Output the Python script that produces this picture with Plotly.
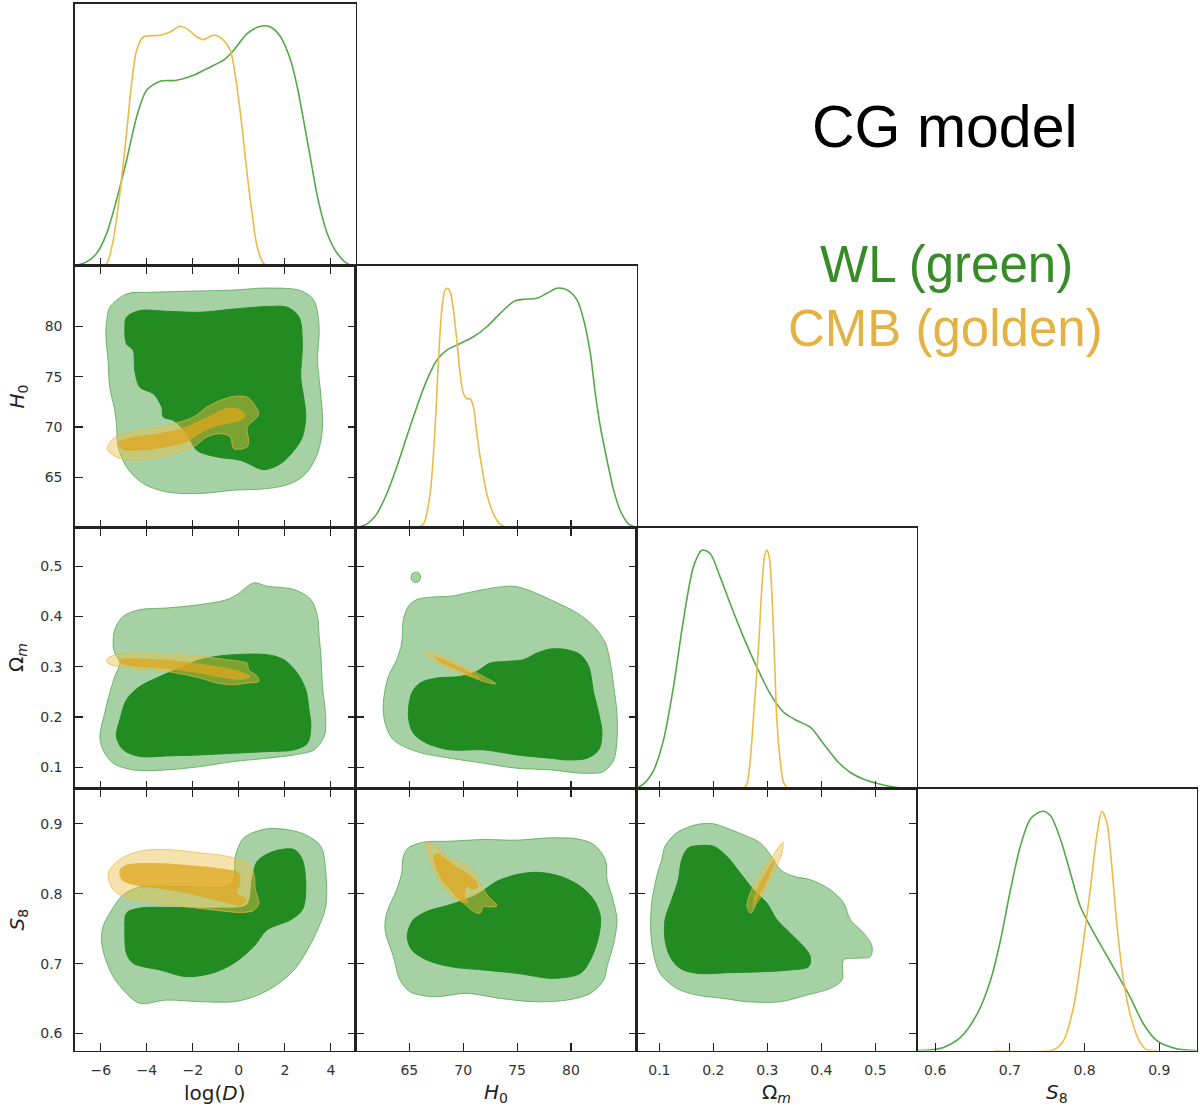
import plotly.graph_objects as go

W, H = 1200, 1111

# panel edges in pixels (left/right per column, top/bottom per row)
COL_PX = [(74.5, 355.5), (355.5, 636.5), (636.5, 917.0), (917.0, 1197.0)]
ROW_PX = [(3.5, 265.5), (265.5, 527.5), (527.5, 788.5), (788.5, 1050.5)]

PARAMS = ["logD", "H0", "Om", "S8"]
LABELS = {
    "logD": "log(<i>D</i>)",
    "H0": "<i>H</i><sub>0</sub>",
    "Om": "Ω<sub><i>m</i></sub>",
    "S8": "<i>S</i><sub>8</sub>",
}
RANGES = {
    "logD": [-7.14, 5.07],
    "H0": [60.0, 86.08],
    "Om": [0.0577, 0.577],
    "S8": [0.5757, 0.9505],
}
TICKS = {
    "logD": [-6, -4, -2, 0, 2, 4],
    "H0": [65, 70, 75, 80],
    "Om": [0.1, 0.2, 0.3, 0.4, 0.5],
    "S8": [0.6, 0.7, 0.8, 0.9],
}
DENS_RANGE = [0, 1.095]

# ---- 1D marginals: (value, normalised density) ----
WL_LOGD_1D = [(-7.14, 0), (-6.63, 0.014), (-6.19, 0.049), (-5.75, 0.132), (-5.32, 0.272),
              (-4.88, 0.439), (-4.44, 0.621), (-4.01, 0.732), (-3.42, 0.770), (-2.70, 0.774),
              (-1.97, 0.795), (-1.24, 0.830), (-0.66, 0.858), (-0.22, 0.900), (0.36, 0.969),
              (0.94, 1.0), (1.38, 0.997), (1.82, 0.955), (2.25, 0.858), (2.54, 0.746),
              (2.84, 0.593), (3.13, 0.439), (3.42, 0.286), (3.85, 0.132), (4.29, 0.049),
              (4.73, 0.007), (5.07, 0)]
CMB_LOGD_1D = [(-7.1, 0), (-6.04, 0), (-5.75, 0.007), (-5.46, 0.105), (-5.17, 0.300),
               (-4.88, 0.551), (-4.66, 0.760), (-4.44, 0.900), (-4.15, 0.955), (-3.42, 0.962),
               (-2.99, 0.976), (-2.55, 1.0), (-2.26, 0.990), (-1.82, 0.955), (-1.53, 0.944),
               (-1.24, 0.958), (-1.02, 0.962), (-0.66, 0.941), (-0.37, 0.900), (-0.08, 0.746),
               (0.14, 0.579), (0.36, 0.384), (0.58, 0.216), (0.80, 0.077), (1.09, 0.007),
               (1.38, 0), (2.47, 0)]
WL_H0_1D = [(60.10, 0), (61.03, 0.014), (61.96, 0.056), (62.89, 0.140), (63.82, 0.252),
            (64.75, 0.378), (65.68, 0.503), (66.61, 0.615), (67.54, 0.699), (68.47, 0.741),
            (69.71, 0.769), (70.95, 0.797), (72.19, 0.839), (73.43, 0.895), (74.67, 0.944),
            (75.60, 0.954), (76.84, 0.958), (77.77, 0.979), (78.70, 1.0), (79.63, 0.993),
            (80.56, 0.951), (81.18, 0.867), (81.80, 0.727), (82.26, 0.559), (82.73, 0.420),
            (83.35, 0.280), (83.97, 0.154), (84.58, 0.070), (85.36, 0.014), (86.07, 0)]
CMB_H0_1D = [(63.05, 0), (65.68, 0), (66.30, 0.014), (66.92, 0.140), (67.39, 0.420),
             (67.70, 0.699), (68.01, 0.909), (68.32, 0.993), (68.53, 1.0), (68.78, 0.986),
             (69.09, 0.909), (69.40, 0.783), (69.71, 0.643), (70.02, 0.559), (70.33, 0.538),
             (70.64, 0.538), (70.95, 0.503), (71.26, 0.392), (71.72, 0.252), (72.19, 0.140),
             (72.81, 0.056), (73.43, 0.014), (74.05, 0), (80.87, 0)]
WL_OM_1D = [(0.0567, 0), (0.0703, 0.018), (0.0889, 0.074), (0.1074, 0.201), (0.1260, 0.425),
            (0.1445, 0.705), (0.1631, 0.930), (0.1785, 1.0), (0.1940, 0.986), (0.2125, 0.888),
            (0.2311, 0.776), (0.2558, 0.635), (0.2805, 0.509), (0.3053, 0.397), (0.3300, 0.320),
            (0.3547, 0.285), (0.3794, 0.257), (0.4042, 0.187), (0.4289, 0.116), (0.4536, 0.067),
            (0.4784, 0.039), (0.5093, 0.018), (0.5402, 0.004), (0.5773, 0)]
CMB_OM_1D = [(0.2558, 0), (0.2620, 0.018), (0.2682, 0.116), (0.2756, 0.341), (0.2836, 0.593),
             (0.2898, 0.846), (0.2947, 0.972), (0.2991, 1.0), (0.3034, 0.972), (0.3083, 0.818),
             (0.3133, 0.537), (0.3176, 0.285), (0.3238, 0.116), (0.3300, 0.025), (0.3374, 0)]
WL_S8_1D = [(0.5764, 0), (0.5942, 0.003), (0.6120, 0.014), (0.6342, 0.056), (0.6564, 0.154),
            (0.6742, 0.295), (0.6876, 0.463), (0.7009, 0.673), (0.7142, 0.856), (0.7276, 0.968),
            (0.7431, 1.0), (0.7542, 0.982), (0.7676, 0.884), (0.7809, 0.743), (0.7942, 0.603),
            (0.8076, 0.519), (0.8253, 0.421), (0.8431, 0.323), (0.8609, 0.224), (0.8787, 0.112),
            (0.8964, 0.042), (0.9231, 0.007), (0.9498, 0)]
CMB_S8_1D = [(0.68, 0), (0.7587, 0.003), (0.7720, 0.042), (0.7853, 0.182), (0.7964, 0.407),
             (0.8076, 0.673), (0.8164, 0.898), (0.8231, 1.0), (0.8298, 0.954), (0.8364, 0.771),
             (0.8431, 0.533), (0.8520, 0.295), (0.8631, 0.126), (0.8742, 0.035), (0.8831, 0.003),
             (0.8964, 0)]

# ---- 2D contours: (x, y) outlines of 95% and 68% regions ----
WL95_LOGD_H0 = [(-5.61, 81.92), (-4.88, 83.25), (-3.86, 83.41), (-2.40, 83.51), (-0.22, 83.64),
                (1.23, 83.84), (2.69, 83.58), (3.27, 82.58), (3.49, 79.93), (3.42, 76.62),
                (3.56, 73.31), (3.64, 70.0), (3.42, 67.35), (2.91, 65.36), (2.25, 64.37),
                (1.23, 63.87), (-0.22, 63.71), (-1.68, 63.38), (-3.13, 63.54), (-4.15, 64.37),
                (-4.88, 66.03), (-5.24, 68.01), (-5.32, 70.33), (-5.39, 71.66), (-5.61, 73.97),
                (-5.68, 76.62), (-5.78, 79.27), (-5.72, 80.93)]
WL68_LOGD_H0 = [(-4.88, 80.93), (-4.30, 81.59), (-3.13, 81.52), (-1.68, 81.42), (-0.22, 81.75),
                (1.23, 81.99), (2.11, 81.92), (2.62, 80.93), (2.76, 78.28), (2.69, 74.97),
                (2.84, 72.65), (2.91, 70.99), (2.76, 69.01), (2.40, 67.68), (1.82, 66.36),
                (1.09, 65.76), (0.07, 66.69), (-0.95, 67.02), (-1.82, 67.68), (-2.26, 69.34),
                (-2.84, 70.66), (-3.28, 70.99), (-3.35, 71.99), (-3.71, 73.31), (-4.30, 73.97),
                (-4.52, 75.63), (-4.59, 77.62), (-4.88, 78.28), (-4.95, 79.93)]
CMB95_LOGD_H0 = [(-5.72, 67.85), (-5.46, 68.84), (-4.88, 69.40), (-3.86, 69.83), (-2.84, 70.33),
                 (-1.97, 70.99), (-1.39, 71.99), (-0.80, 72.65), (-0.22, 73.05), (0.36, 72.98),
                 (0.65, 72.32), (0.87, 71.32), (0.65, 70.66), (0.36, 70.0), (0.43, 68.68),
                 (0.36, 68.01), (-0.22, 67.85), (-0.37, 69.01), (-0.80, 69.34), (-1.39, 69.01),
                 (-1.97, 68.01), (-2.84, 67.35), (-3.86, 66.85), (-4.59, 66.69), (-5.32, 67.02)]
CMB68_LOGD_H0 = [(-5.24, 68.51), (-4.59, 69.01), (-3.57, 69.34), (-2.55, 69.83), (-1.82, 70.50),
                 (-1.09, 71.32), (-0.51, 71.92), (0.07, 71.72), (0.29, 71.16), (0.07, 70.66),
                 (-0.51, 70.33), (-1.09, 70.0), (-1.68, 69.34), (-2.26, 68.51), (-3.13, 68.01),
                 (-4.15, 67.68), (-5.02, 67.75)]

WL95_LOGD_OM = [(-5.46, 0.3405), (-5.39, 0.3738), (-5.02, 0.4003), (-4.30, 0.4136), (-3.13, 0.4169),
                (-1.68, 0.4236), (-0.51, 0.4336), (-0.08, 0.4435), (0.65, 0.4668), (1.23, 0.4601),
                (2.40, 0.4535), (3.13, 0.4336), (3.42, 0.4003), (3.49, 0.3605), (3.56, 0.3272),
                (3.64, 0.2608), (3.78, 0.1944), (3.71, 0.1611), (3.27, 0.1346), (2.40, 0.1246),
                (1.23, 0.1179), (-0.22, 0.1113), (-1.68, 0.1013), (-3.13, 0.0947), (-4.59, 0.0947),
                (-5.46, 0.1080), (-5.90, 0.1346), (-6.04, 0.1611), (-5.83, 0.2076), (-5.61, 0.2475),
                (-5.39, 0.2807), (-5.17, 0.3073), (-5.39, 0.3272)]
WL68_LOGD_OM = [(-5.17, 0.1944), (-4.88, 0.2342), (-4.30, 0.2608), (-3.42, 0.2807), (-2.40, 0.3007),
                (-1.68, 0.3140), (-0.95, 0.3206), (-0.22, 0.3239), (1.23, 0.3239), (1.96, 0.3140),
                (2.54, 0.2874), (2.91, 0.2542), (3.05, 0.2143), (3.13, 0.1811), (2.98, 0.1478),
                (2.40, 0.1346), (1.23, 0.1312), (-0.22, 0.1279), (-1.68, 0.1246), (-3.13, 0.1226),
                (-4.30, 0.1213), (-5.02, 0.1346), (-5.32, 0.1611)]
CMB95_LOGD_OM = [(-5.75, 0.3140), (-5.39, 0.3239), (-4.59, 0.3272), (-3.13, 0.3259), (-1.68, 0.3206),
                 (-0.51, 0.3140), (0.07, 0.3106), (0.36, 0.3073), (0.43, 0.2940), (0.80, 0.2807),
                 (0.87, 0.2708), (0.36, 0.2674), (-0.22, 0.2641), (-0.95, 0.2674), (-1.68, 0.2774),
                 (-3.13, 0.2907), (-4.59, 0.2973), (-5.32, 0.3007), (-5.68, 0.3073)]
CMB68_LOGD_OM = [(-5.17, 0.3140), (-3.86, 0.3153), (-2.40, 0.3106), (-0.95, 0.3007), (0.07, 0.2907),
                 (0.51, 0.2807), (0.22, 0.2741), (-0.37, 0.2754), (-1.68, 0.2860), (-3.13, 0.2953),
                 (-4.59, 0.3007), (-5.10, 0.3060)]

WL95_LOGD_S8 = [(-5.90, 0.7531), (-5.61, 0.7722), (-5.02, 0.7986), (-4.30, 0.8096), (-3.13, 0.8105),
                (-1.68, 0.8096), (-0.51, 0.8105), (-0.22, 0.8201), (-0.15, 0.8536), (0.22, 0.8799),
                (1.23, 0.8928), (2.69, 0.8871), (3.56, 0.8679), (3.78, 0.8297), (3.78, 0.7818),
                (3.42, 0.7483), (2.98, 0.7196), (2.40, 0.6909), (1.53, 0.6670), (0.65, 0.6526),
                (-0.22, 0.6455), (-1.68, 0.6455), (-3.13, 0.6478), (-4.30, 0.6431), (-4.88, 0.6574),
                (-5.46, 0.6813), (-5.83, 0.7100), (-5.97, 0.7340)]
WL68_LOGD_S8 = [(-4.88, 0.7722), (-4.30, 0.7794), (-3.13, 0.7804), (-0.95, 0.7794), (0.36, 0.7842),
                (0.58, 0.8201), (0.80, 0.8464), (1.53, 0.8608), (2.40, 0.8632), (2.76, 0.8488),
                (2.91, 0.8057), (2.76, 0.7770), (2.25, 0.7627), (1.23, 0.7483), (0.65, 0.7244),
                (-0.22, 0.7005), (-1.09, 0.6871), (-2.26, 0.6813), (-3.42, 0.6909), (-4.59, 0.7005),
                (-4.88, 0.7148), (-4.95, 0.7483)]
CMB95_LOGD_S8 = [(-5.68, 0.8297), (-5.17, 0.8488), (-4.30, 0.8608), (-3.13, 0.8632), (-1.68, 0.8584),
                 (-0.51, 0.8536), (0.36, 0.8440), (0.65, 0.8297), (0.72, 0.8057), (0.87, 0.7866),
                 (0.65, 0.7761), (0.07, 0.7732), (-0.95, 0.7761), (-2.40, 0.7818), (-3.86, 0.7876),
                 (-5.02, 0.7962), (-5.46, 0.8057)]
CMB68_LOGD_S8 = [(-5.17, 0.8344), (-4.88, 0.8416), (-3.86, 0.8440), (-2.40, 0.8416), (-0.95, 0.8368),
                 (0.0, 0.8297), (0.07, 0.8153), (-0.08, 0.8010), (0.36, 0.7914), (0.07, 0.7828),
                 (-0.51, 0.7866), (-1.68, 0.7962), (-3.13, 0.8057), (-4.30, 0.8105), (-5.02, 0.8177),
                 (-5.17, 0.8249)]

WL95_H0_OM = [(64.44, 0.3937), (64.91, 0.4203), (65.68, 0.4336), (67.23, 0.4389), (68.78, 0.4402),
              (70.33, 0.4468), (71.88, 0.4535), (73.43, 0.4588), (74.67, 0.4601), (75.91, 0.4535),
              (78.08, 0.4336), (80.56, 0.4070), (82.11, 0.3804), (83.19, 0.3472), (83.66, 0.3073),
              (83.97, 0.2608), (84.27, 0.2076), (84.27, 0.1545), (83.97, 0.1146), (83.04, 0.0914),
              (81.18, 0.0880), (78.08, 0.0947), (74.98, 0.0980), (71.88, 0.1080), (68.78, 0.1179),
              (65.68, 0.1312), (63.51, 0.1545), (62.74, 0.1877), (62.58, 0.2276), (63.05, 0.2807),
              (63.82, 0.3140), (64.29, 0.3472)]
WL95_H0_OM_ISLAND = [(66.05, 0.478), (65.92, 0.4854), (65.6, 0.4885), (65.28, 0.4854),
                     (65.15, 0.478), (65.28, 0.4706), (65.6, 0.4675), (65.92, 0.4706)]
WL68_H0_OM = [(64.91, 0.2010), (65.22, 0.2475), (65.99, 0.2674), (67.54, 0.2774), (69.71, 0.2807),
              (71.26, 0.2907), (72.50, 0.3073), (74.05, 0.3106), (75.60, 0.3140), (76.84, 0.3272),
              (78.08, 0.3352), (79.63, 0.3339), (80.87, 0.3239), (81.64, 0.3007), (82.11, 0.2475),
              (82.57, 0.2076), (82.88, 0.1678), (82.57, 0.1346), (81.49, 0.1179), (79.63, 0.1146),
              (78.08, 0.1179), (74.98, 0.1246), (71.88, 0.1346), (68.78, 0.1346), (66.61, 0.1478),
              (65.37, 0.1678)]
CMB95_H0_OM = [(66.55, 0.3306), (67.23, 0.3272), (68.78, 0.3140), (70.33, 0.2973), (71.88, 0.2807),
               (73.03, 0.2661), (72.19, 0.2688), (70.64, 0.2807), (68.78, 0.2953), (67.39, 0.3106),
               (66.67, 0.3219)]
CMB68_H0_OM = [(67.23, 0.3206), (68.78, 0.3086), (70.33, 0.2927), (71.72, 0.2767), (70.95, 0.2794),
               (69.40, 0.2940), (67.85, 0.3093)]

WL95_H0_S8 = [(64.44, 0.8536), (64.91, 0.8656), (66.30, 0.8737), (68.78, 0.8751), (71.88, 0.8775),
              (74.98, 0.8766), (78.08, 0.8799), (80.56, 0.8785), (82.11, 0.8703), (83.19, 0.8488),
              (83.35, 0.8201), (83.81, 0.7962), (84.27, 0.7627), (83.97, 0.7292), (83.35, 0.6957),
              (83.04, 0.6766), (81.80, 0.6574), (79.63, 0.6478), (76.53, 0.6455), (73.43, 0.6502),
              (70.33, 0.6574), (67.23, 0.6526), (65.06, 0.6598), (64.13, 0.6766), (63.51, 0.7100),
              (62.74, 0.7483), (62.89, 0.7722), (63.82, 0.8057), (64.29, 0.8297)]
WL68_H0_S8 = [(64.91, 0.7483), (65.37, 0.7627), (66.61, 0.7746), (68.78, 0.7842), (71.26, 0.7986),
              (73.12, 0.8177), (74.98, 0.8273), (76.84, 0.8306), (79.01, 0.8249), (80.87, 0.8105),
              (82.11, 0.7914), (82.73, 0.7675), (82.57, 0.7388), (81.80, 0.7053), (80.87, 0.6861),
              (78.39, 0.6789), (74.98, 0.6861), (71.88, 0.6909), (68.78, 0.6957), (66.61, 0.7053),
              (65.22, 0.7196), (64.81, 0.7364)]
CMB95_H0_S8 = [(66.46, 0.8718), (66.92, 0.8727), (67.85, 0.8632), (68.78, 0.8512), (69.71, 0.8440),
               (70.49, 0.8392), (71.10, 0.8297), (71.72, 0.8105), (72.34, 0.7962), (73.12, 0.7828),
               (72.50, 0.7809), (71.88, 0.7818), (71.57, 0.7722), (70.95, 0.7746), (70.02, 0.7866),
               (68.78, 0.7986), (67.85, 0.8153), (67.23, 0.8344), (66.77, 0.8536)]
CMB68_H0_S8 = [(67.23, 0.8536), (67.70, 0.8574), (68.47, 0.8488), (69.40, 0.8383), (70.33, 0.8297),
               (71.10, 0.8201), (71.41, 0.8105), (70.79, 0.8057), (70.33, 0.8105), (70.18, 0.7962),
               (70.49, 0.7866), (69.71, 0.7904), (68.78, 0.8057), (68.01, 0.8201), (67.48, 0.8368)]

WL95_OM_S8 = [(0.1105, 0.8679), (0.1321, 0.8871), (0.1692, 0.8990), (0.2002, 0.9000), (0.2311, 0.8919),
              (0.2620, 0.8823), (0.2867, 0.8727), (0.3053, 0.8560), (0.3238, 0.8344), (0.3485, 0.8249),
              (0.3794, 0.8201), (0.4165, 0.8057), (0.4413, 0.7866), (0.4536, 0.7627), (0.4784, 0.7435),
              (0.4938, 0.7244), (0.4907, 0.7100), (0.4660, 0.7077), (0.4413, 0.7053), (0.4382, 0.6766),
              (0.4165, 0.6646), (0.3733, 0.6550), (0.3238, 0.6455), (0.2620, 0.6455), (0.2187, 0.6502),
              (0.1692, 0.6550), (0.1321, 0.6646), (0.1012, 0.6861), (0.0889, 0.7148), (0.0839, 0.7483),
              (0.0858, 0.7866), (0.0951, 0.8249), (0.1043, 0.8488)]
WL68_OM_S8 = [(0.1414, 0.8488), (0.1538, 0.8656), (0.1754, 0.8689), (0.2002, 0.8679), (0.2249, 0.8536),
              (0.2496, 0.8297), (0.2743, 0.8057), (0.2991, 0.7866), (0.3176, 0.7627), (0.3424, 0.7435),
              (0.3671, 0.7244), (0.3794, 0.7100), (0.3764, 0.6957), (0.3424, 0.6909), (0.2929, 0.6885),
              (0.2311, 0.6871), (0.1692, 0.6861), (0.1383, 0.6933), (0.1198, 0.7100), (0.1105, 0.7340),
              (0.1105, 0.7627), (0.1229, 0.7914), (0.1352, 0.8201)]
CMB95_OM_S8 = [(0.3287, 0.8737), (0.3269, 0.8584), (0.3176, 0.8392), (0.3053, 0.8201), (0.2929, 0.8010),
               (0.2805, 0.7866), (0.2694, 0.7722), (0.2620, 0.7818), (0.2682, 0.8010), (0.2805, 0.8201),
               (0.2960, 0.8392), (0.3114, 0.8560)]
CMB68_OM_S8 = [(0.3145, 0.8488), (0.3053, 0.8287), (0.2929, 0.8081), (0.2805, 0.7914), (0.2731, 0.7794),
               (0.2756, 0.7962), (0.2879, 0.8177), (0.3022, 0.8368)]

MARGINALS = {
    "logD": (WL_LOGD_1D, CMB_LOGD_1D),
    "H0": (WL_H0_1D, CMB_H0_1D),
    "Om": (WL_OM_1D, CMB_OM_1D),
    "S8": (WL_S8_1D, CMB_S8_1D),
}
CONTOURS = {
    ("logD", "H0"): ([WL95_LOGD_H0], WL68_LOGD_H0, CMB95_LOGD_H0, CMB68_LOGD_H0),
    ("logD", "Om"): ([WL95_LOGD_OM], WL68_LOGD_OM, CMB95_LOGD_OM, CMB68_LOGD_OM),
    ("logD", "S8"): ([WL95_LOGD_S8], WL68_LOGD_S8, CMB95_LOGD_S8, CMB68_LOGD_S8),
    ("H0", "Om"): ([WL95_H0_OM, WL95_H0_OM_ISLAND], WL68_H0_OM, CMB95_H0_OM, CMB68_H0_OM),
    ("H0", "S8"): ([WL95_H0_S8], WL68_H0_S8, CMB95_H0_S8, CMB68_H0_S8),
    ("Om", "S8"): ([WL95_OM_S8], WL68_OM_S8, CMB95_OM_S8, CMB68_OM_S8),
}

WL_LIGHT = "rgb(166,209,164)"
WL_DARK = "rgb(34,139,34)"
WL_EDGE = "rgba(70,160,70,0.7)"
CMB_LIGHT = "rgba(236,190,70,0.45)"
CMB_DARK = "rgba(222,165,30,0.75)"
CMB_EDGE = "rgba(232,182,70,0.7)"
WL_LINE = "rgb(84,168,74)"
CMB_LINE = "rgb(236,186,70)"
AX_COLOR = "#222222"
TICK_FONT = dict(family="DejaVu Sans", size=14, color="#333333")


def closed(points):
    pts = list(points) + [points[0]]
    return [p[0] for p in pts], [p[1] for p in pts]


def axis_refs(k):
    return ("x" if k == 1 else f"x{k}"), ("y" if k == 1 else f"y{k}")


def layout_keys(k):
    return ("xaxis" if k == 1 else f"xaxis{k}"), ("yaxis" if k == 1 else f"yaxis{k}")


fig = go.Figure()
layout = {}
k = 0
for i in range(4):
    for j in range(i + 1):
        k += 1
        xr, yr = axis_refs(k)
        xk, yk = layout_keys(k)
        xdom = [COL_PX[j][0] / W, COL_PX[j][1] / W]
        ydom = [1 - ROW_PX[i][1] / H, 1 - ROW_PX[i][0] / H]
        px, py = PARAMS[j], PARAMS[i]
        diag = i == j

        if diag:
            wl, cmb = MARGINALS[px]
            for curve, color in ((wl, WL_LINE), (cmb, CMB_LINE)):
                fig.add_trace(go.Scatter(
                    x=[p[0] for p in curve], y=[p[1] for p in curve],
                    mode="lines", line=dict(color=color, width=1.6, shape="spline", smoothing=0.8),
                    xaxis=xr, yaxis=yr, showlegend=False, hoverinfo="skip",
                ))
        else:
            wl95_list, wl68, cmb95, cmb68 = CONTOURS[(px, py)]
            shapes = [(poly, WL_LIGHT, WL_EDGE) for poly in wl95_list]
            shapes += [(wl68, WL_DARK, WL_DARK), (cmb95, CMB_LIGHT, CMB_EDGE), (cmb68, CMB_DARK, "rgba(0,0,0,0)")]
            for poly, fillc, edge in shapes:
                xs, ys = closed(poly)
                fig.add_trace(go.Scatter(
                    x=xs, y=ys, mode="lines", fill="toself", fillcolor=fillc,
                    line=dict(color=edge, width=1, shape="spline", smoothing=0.9),
                    xaxis=xr, yaxis=yr, showlegend=False, hoverinfo="skip",
                ))

        layout[xk] = dict(
            domain=xdom, anchor=yr, range=RANGES[px],
            tickmode="array", tickvals=TICKS[px],
            ticks="inside", ticklen=8, tickwidth=1.2, tickcolor=AX_COLOR,
            showticklabels=(i == 3), tickfont=TICK_FONT, ticklabelstandoff=6,
            showline=True, linecolor=AX_COLOR, linewidth=1.2,
            mirror=True if diag else "ticks",
            showgrid=False, zeroline=False, fixedrange=True,
        )
        if diag:
            layout[yk] = dict(
                domain=ydom, anchor=xr, range=DENS_RANGE, ticks="", showticklabels=False,
                showline=True, linecolor=AX_COLOR, linewidth=1.2, mirror=True,
                showgrid=False, zeroline=False, fixedrange=True,
            )
        else:
            layout[yk] = dict(
                domain=ydom, anchor=xr, range=RANGES[py],
                tickmode="array", tickvals=TICKS[py],
                ticks="inside", ticklen=8, tickwidth=1.2, tickcolor=AX_COLOR,
                showticklabels=(j == 0), tickfont=TICK_FONT, ticklabelstandoff=8,
                showline=True, linecolor=AX_COLOR, linewidth=1.2, mirror="ticks",
                showgrid=False, zeroline=False, fixedrange=True,
            )

annotations = []
for j, p in enumerate(PARAMS):
    annotations.append(dict(
        text=LABELS[p], xref="paper", yref="paper",
        x=(COL_PX[j][0] + COL_PX[j][1]) / 2 / W, y=1 - 1093 / H,
        showarrow=False, font=dict(family="DejaVu Sans", size=20, color="#222"),
        xanchor="center", yanchor="middle",
    ))
for i, p in enumerate(PARAMS[1:], start=1):
    annotations.append(dict(
        text=LABELS[p], xref="paper", yref="paper",
        x=17 / W, y=1 - (ROW_PX[i][0] + ROW_PX[i][1]) / 2 / H,
        showarrow=False, textangle=-90, font=dict(family="DejaVu Sans", size=20, color="#222"),
        xanchor="center", yanchor="middle",
    ))

annotations += [
    dict(text="CG model", x=945 / W, y=1 - 127 / H, font=dict(family="Liberation Sans", size=59, color="black")),
    dict(text="WL (green)", x=946 / W, y=1 - 264 / H, font=dict(family="Liberation Sans", size=51, color="rgb(56,140,40)")),
    dict(text="CMB (golden)", x=945 / W, y=1 - 328 / H, font=dict(family="Liberation Sans", size=51, color="rgb(228,178,66)")),
]
for a in annotations[-3:]:
    a.update(xref="paper", yref="paper", showarrow=False, xanchor="center", yanchor="middle")

fig.update_layout(
    width=W, height=H, margin=dict(l=0, r=0, t=0, b=0),
    paper_bgcolor="white", plot_bgcolor="white",
    annotations=annotations, showlegend=False,
    **layout,
)

# drop the page's default body margin so the figure sits at the window's corner
fig.write_html(
    "out.html",
    config={"displayModeBar": False, "staticPlot": True},
    post_script="document.body.style.margin='0';",
)
